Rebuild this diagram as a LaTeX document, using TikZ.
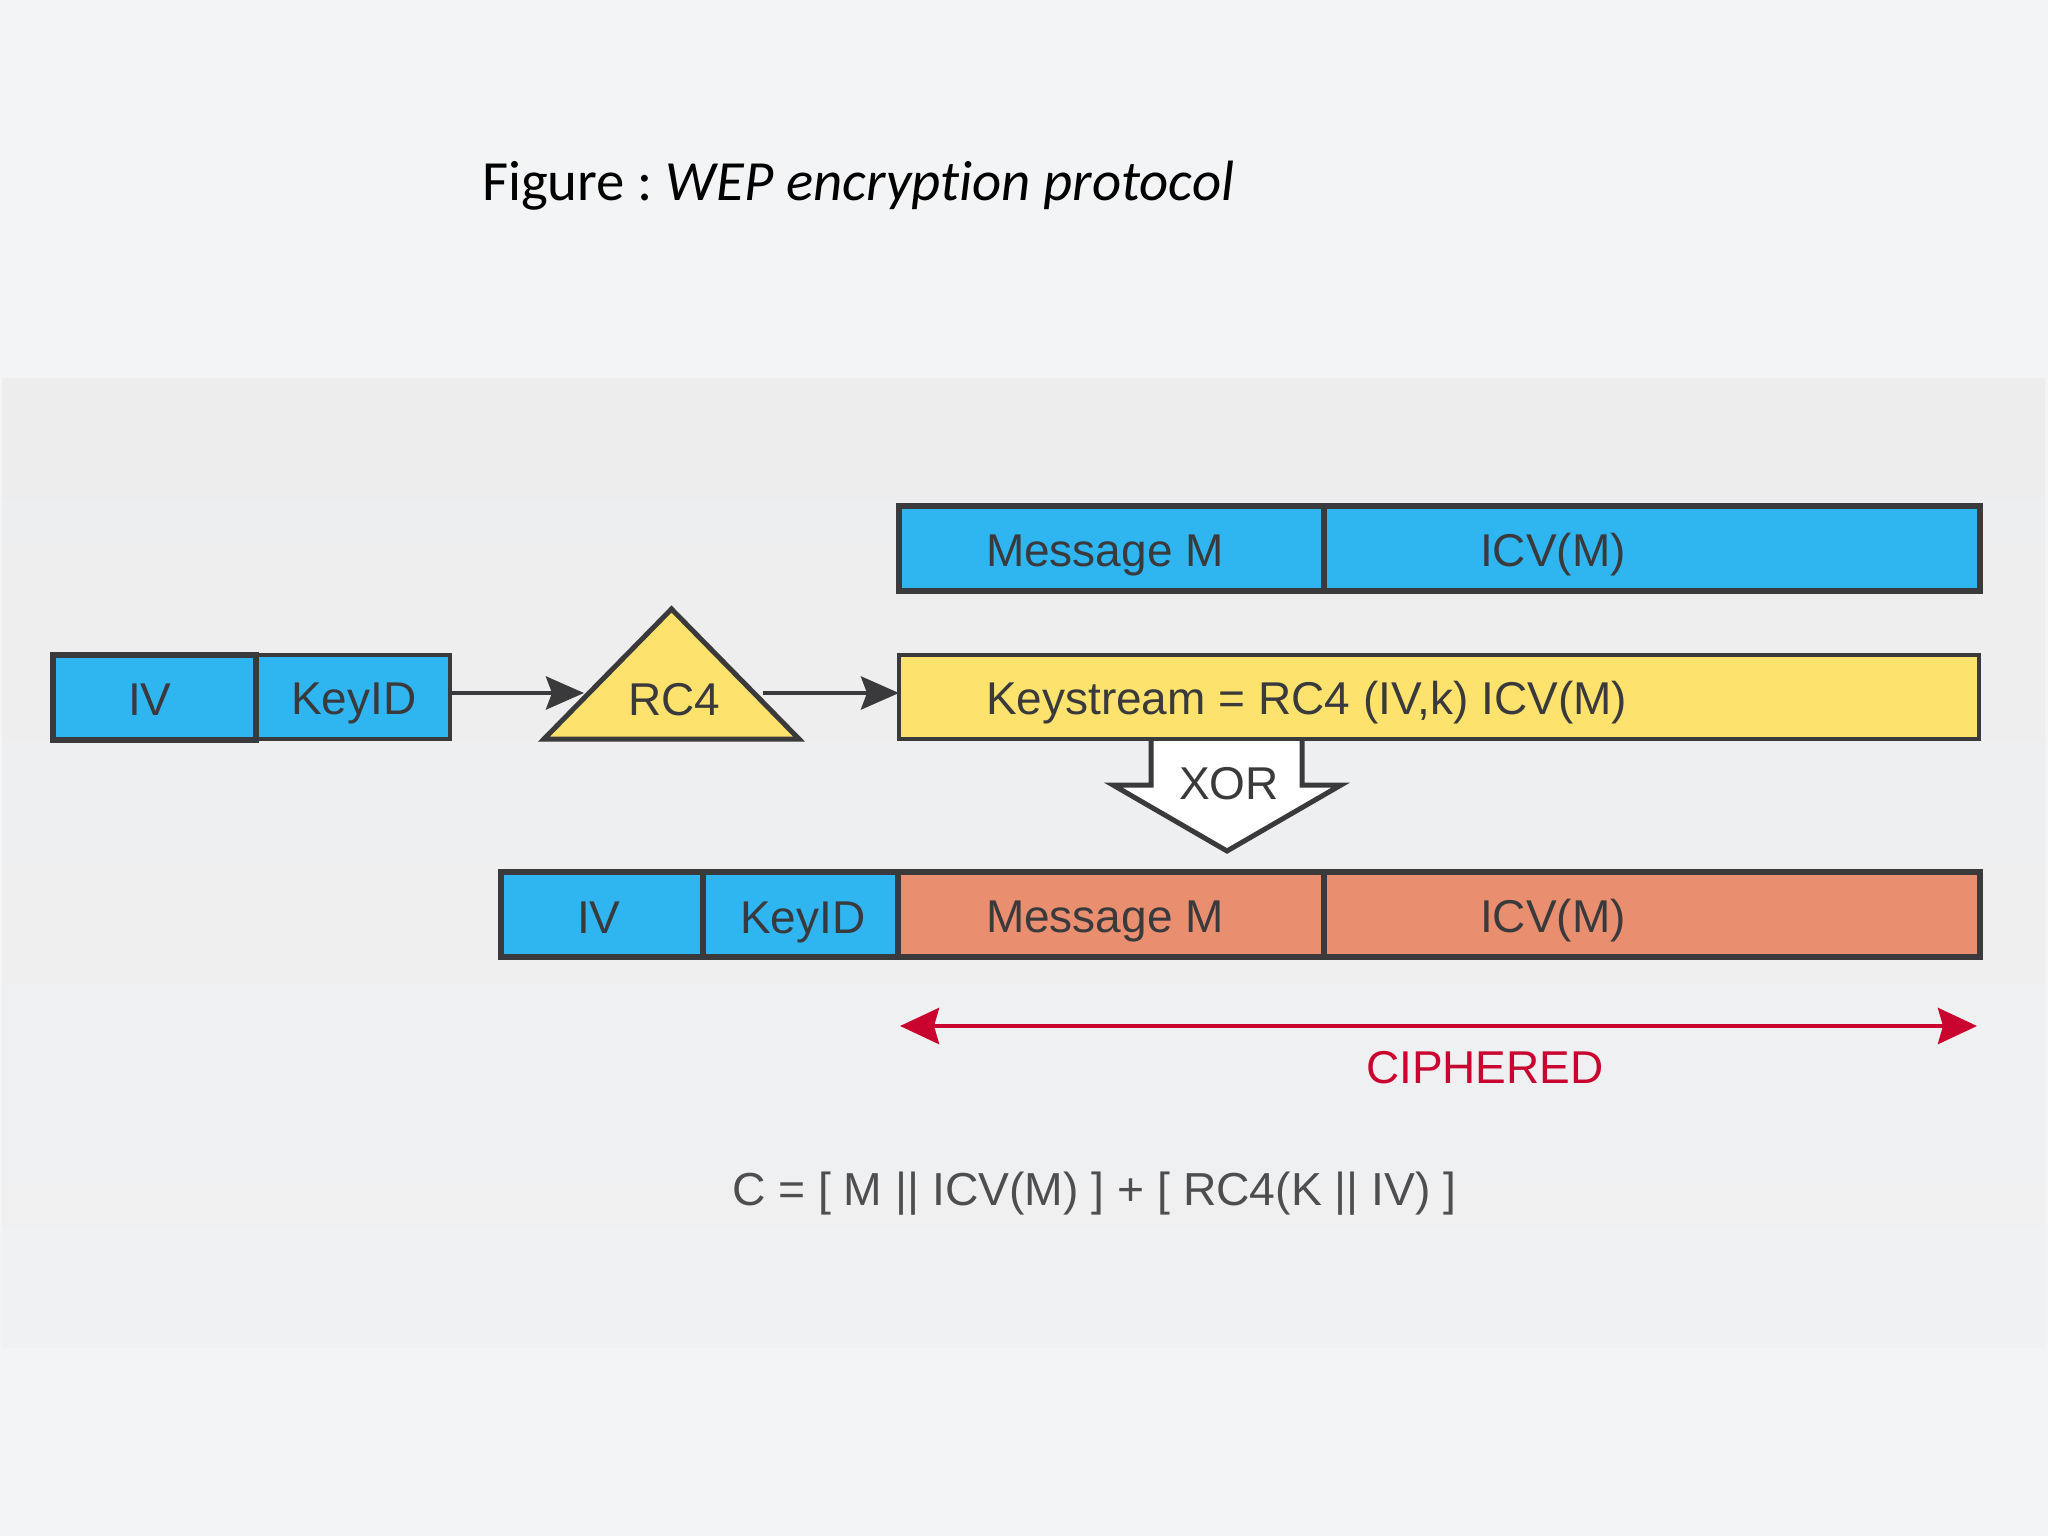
\documentclass[tikz,border=0pt]{standalone}
\usepackage{fontspec}
\setmainfont{Liberation Sans}
\newfontfamily\titlefont[Ligatures=NoCommon]{Carlito}
\usetikzlibrary{arrows.meta,positioning}
\definecolor{pagebg}{HTML}{F3F4F5}
\definecolor{paneltop}{HTML}{EDEDEE}
\definecolor{panelbot}{HTML}{F0F1F2}
\definecolor{cellblue}{HTML}{2FB5F0}
\definecolor{cellyellow}{HTML}{FDE26E}
\definecolor{cellsalmon}{HTML}{E98F70}
\definecolor{ink}{HTML}{3A3A3C}
\definecolor{cipher}{HTML}{C9042F}
\tikzset{
  cell/.style={draw=ink,line width=#1,inner sep=0pt,outer sep=0pt,anchor=north west},
  cell/.default=5pt,
  lbl/.style={inner sep=0pt,outer sep=0pt,anchor=base west,text=ink,font=\fontsize{46}{46}\selectfont},
  flow/.style={draw=ink,line width=4.5pt,-{Stealth[length=38pt,width=33pt,inset=6pt]}},
  span/.style={draw=cipher,line width=4.5pt,{Stealth[length=39pt,width=36pt,inset=5pt]}-{Stealth[length=39pt,width=36pt,inset=5pt]}}
}
\newcommand{\cellbox}[7][5pt]{% lw, name, x, y, w, h, colour
  \node[cell=#1,fill=#7,minimum width=#5pt,minimum height=#6pt] (#2) at (#3,#4) {};}
\begin{document}
\begin{tikzpicture}[x=1pt,y=-1pt]
\useasboundingbox (0,0) rectangle (2048,1536);
\fill[pagebg] (0,0) rectangle (2048,1536);
\shade[top color=paneltop,bottom color=panelbot] (2,378) rectangle (2045,1347);

\node[inner sep=0pt,outer sep=0pt,anchor=base west,text=black,font=\titlefont\fontsize{56.8}{57}\selectfont] (title) at (482,200) {Figure :\ \textit{WEP encryption protocol}};

% XOR arrow (behind the keystream bar)
\draw[ink,fill=white,line width=5pt,line join=miter] (1151,738) -- (1151,785) -- (1113,785) -- (1227,851) -- (1341,785) -- (1302,785) -- (1302,738) -- cycle;

% source bar
\cellbox[4pt]{keyid}{256}{655}{194}{84}{cellblue}
\cellbox[6pt]{iv}{53}{655}{203}{85}{cellblue}

% RC4 triangle
\coordinate (triA) at (671.5,609);
\coordinate (triL) at (544,739);
\coordinate (triR) at (799,739);
\draw[ink,fill=cellyellow,line width=5pt,line join=miter] (triA) -- (triL) -- (triR) -- cycle;
\coordinate (inTip) at (584,693);
\coordinate (outTail) at (763,693);

% top bar
\cellbox[6pt]{msgA}{899}{506}{425}{85}{cellblue}
\cellbox[6pt]{icvA}{1324}{506}{656}{85}{cellblue}

% keystream
\cellbox[4pt]{ks}{899}{655}{1080}{84}{cellyellow}

% bottom bar
\cellbox[6pt]{ivB}{501}{872}{202}{85}{cellblue}
\cellbox[6pt]{keyB}{703}{872}{195}{85}{cellblue}
\cellbox[6pt]{msgB}{898}{872}{426}{85}{cellsalmon}
\cellbox[6pt]{icvB}{1324}{872}{656}{85}{cellsalmon}

% connectors
\draw[flow] (keyid.east |- inTip) -- (inTip);
\draw[flow] (outTail) -- (ks.west |- outTail);
\coordinate (spanL) at (900,1026);
\coordinate (spanR) at (1977,1026);
\draw[span] (spanL) -- (spanR);

% labels
\node[lbl] (tIVa) at (128,715) {IV};
\node[lbl] (tKa) at (291,714) {KeyID};
\node[lbl] (tRC) at (628,715) {RC4};
\node[lbl] (tMa) at (986,566) {Message M};
\node[lbl] (tIa) at (1480,566) {ICV(M)};
\node[lbl] (tKs) at (986,714) {Keystream = RC4 (IV,k) ICV(M)};
\node[lbl] (tX) at (1179,799) {XOR};
\node[lbl] (tIVb) at (577,933) {IV};
\node[lbl] (tKb) at (740,933) {KeyID};
\node[lbl] (tMb) at (986,932) {Message M};
\node[lbl] (tIb) at (1480,932) {ICV(M)};
\node[lbl,text=cipher] (tC) at (1366,1083) {CIPHERED};
\node[lbl,text=ink!90,font=\fontsize{46.3}{46}\selectfont] (tF) at (732,1205) {C = [ M || ICV(M) ] + [ RC4(K || IV) ]};
\end{tikzpicture}
\end{document}
